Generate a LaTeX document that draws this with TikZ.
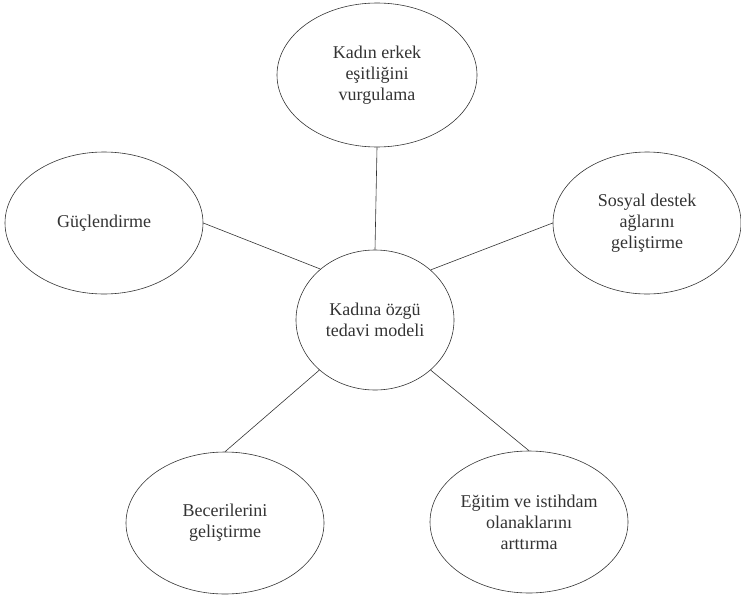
\documentclass[tikz,border=0pt]{standalone}
\usepackage{fontspec}
\setmainfont{Liberation Serif}
\usetikzlibrary{shapes.geometric}
\definecolor{linegray}{HTML}{333333}

\begin{document}
\begin{tikzpicture}[bubble/.style={ellipse, draw=linegray, line width=0.6pt, inner sep=0pt, minimum width=198pt, minimum height=142pt, align=center, text=linegray, font=\fontsize{18pt}{21pt}\selectfont}, hub/.style={bubble, minimum width=158pt, minimum height=140pt}, every edge/.style={draw=linegray, line width=0.6pt}]
  \useasboundingbox (0pt, 0pt) rectangle (741pt, -597pt);
  \draw (375.0pt, -320.0pt)node[hub](0){Kadına özgü\\tedavi modeli};
  \draw (377.0pt, -75.0pt)node[bubble, minimum width=200pt, minimum height=144pt](1){Kadın erkek\\eşitliğini\\vurgulama};
  \draw (104.0pt, -223.0pt)node[bubble](2){Güçlendirme};
  \draw (647.0pt, -223.0pt)node[bubble, minimum width=188pt](3){Sosyal destek\\ağlarını\\geliştirme};
  \draw (225.0pt, -523.0pt)node[bubble](4){Becerilerini\\geliştirme};
  \draw (529.0pt, -522.0pt)node[bubble](5){Eğitim ve istihdam\\olanaklarını\\arttırma};
  \path (1.south) edge (0.north);
  \path (2.east) edge (0.137);
  \path (3.west) edge (0.42);
  \path (0.222) edge (4.north);
  \path (0.318) edge (5.north);
\end{tikzpicture}
\end{document}
